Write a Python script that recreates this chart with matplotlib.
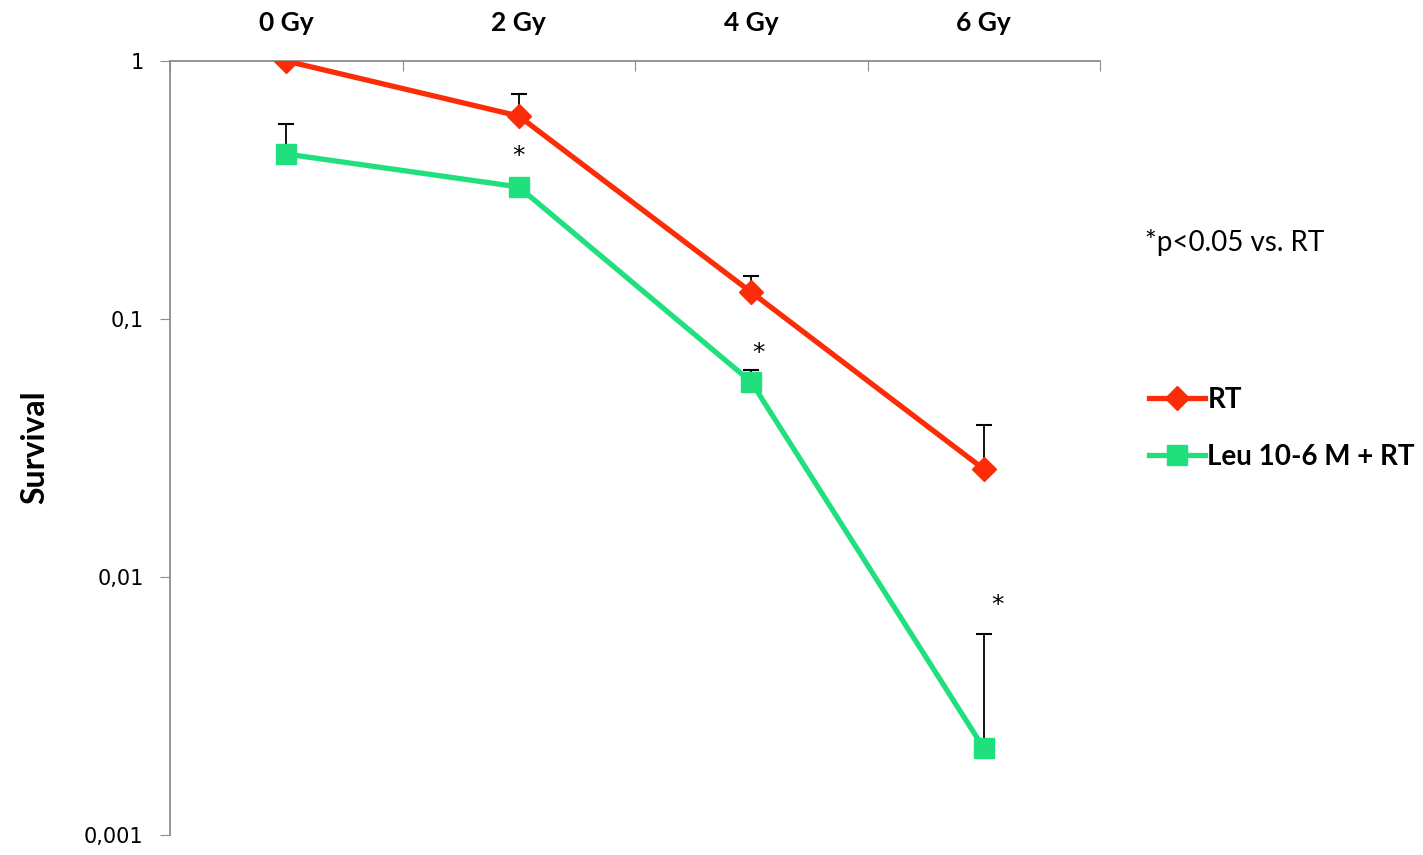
import matplotlib.pyplot as plt
from matplotlib.ticker import FixedLocator, NullFormatter

plt.rcParams['font.family'] = ['Lato', 'DejaVu Sans']

doses = ["0 Gy", "2 Gy", "4 Gy", "6 Gy"]
rt = [1.0, 0.612, 0.127, 0.0262]
rt_err_top = [None, 0.745, 0.147, 0.039]
leu = [0.436, 0.325, 0.057, 0.00217]
leu_err_top = [0.570, None, 0.0634, 0.0060]
star_idx = [1, 2, 3]
star_y = [0.43, 0.074, 0.0078]
y_ticks = [1, 0.1, 0.01, 0.001]
y_labels = ["1", "0,1", "0,01", "0,001"]

RED = "#fb2c08"
GREEN = "#1fe07c"
AXC = "#8c8c8c"

fig = plt.figure(figsize=(14.23, 8.55), dpi=100)
ax = fig.add_axes([170 / 1423, 1 - 835 / 855, 930 / 1423, 774 / 855])

x = list(range(len(doses)))

# upper error bars only: stem + cap
for vals, tops in [(rt, rt_err_top), (leu, leu_err_top)]:
    xs = [i for i, t in zip(x, tops) if t is not None]
    lo = [v for v, t in zip(vals, tops) if t is not None]
    hi = [t for t in tops if t is not None]
    ax.vlines(xs, lo, hi, color="black", lw=1.3, zorder=1)
    ax.plot(xs, hi, ls="none", marker="_", ms=12, mew=1.5, color="black",
            zorder=1)

ax.plot(x, rt, color=RED, lw=3.8, marker="D", ms=12, mec=RED, mfc=RED,
        label="RT", zorder=3)
ax.plot(x, leu, color=GREEN, lw=3.8, marker="s", ms=15, mec=GREEN, mfc=GREEN,
        label="Leu 10-6 M + RT", zorder=3)

for i, yv in zip(star_idx, star_y):
    ax.text(i + 0.03 * (i - 1), yv, "*", ha="center", va="center",
            fontsize=18, family="DejaVu Sans")

ax.set_yscale("log")
ax.set_ylim(0.001, 1)
ax.set_xlim(-0.5, 3.5)
ax.yaxis.set_major_locator(FixedLocator(y_ticks))
ax.set_yticklabels(y_labels, family="DejaVu Sans")
ax.yaxis.set_minor_locator(FixedLocator([]))
ax.tick_params(axis="y", which="major", length=7, color=AXC, labelsize=15,
               pad=12)

ax.xaxis.tick_top()
ax.xaxis.set_major_locator(FixedLocator([-0.5, 0.5, 1.5, 2.5, 3.5]))
ax.xaxis.set_major_formatter(NullFormatter())
ax.xaxis.set_minor_locator(FixedLocator(x))
ax.set_xticklabels(doses, minor=True, fontweight="bold", fontsize=19)
ax.tick_params(axis="x", which="major", top=True, length=7, color=AXC,
               direction="in")
ax.tick_params(axis="x", which="minor", top=True, length=0, pad=19)

for s in ["right", "bottom"]:
    ax.spines[s].set_visible(False)
for s in ["left", "top"]:
    ax.spines[s].set_color(AXC)
    ax.spines[s].set_linewidth(1.3)

fig.text(35 / 1423, 1 - 447 / 855, "Survival", rotation=90, fontweight="bold",
         fontsize=23, ha="center", va="center")
fig.text(1145 / 1423, 1 - 243 / 855, "*p<0.05 vs. RT", fontsize=20,
         ha="left", va="center")

fig.legend(loc="upper left", bbox_to_anchor=(1124 / 1423, 1 - 362 / 855),
           frameon=False, handlelength=2.0, handletextpad=0.1,
           labelspacing=1.1, prop={"weight": "bold", "size": 20})

fig.savefig("out.png", dpi=100)
